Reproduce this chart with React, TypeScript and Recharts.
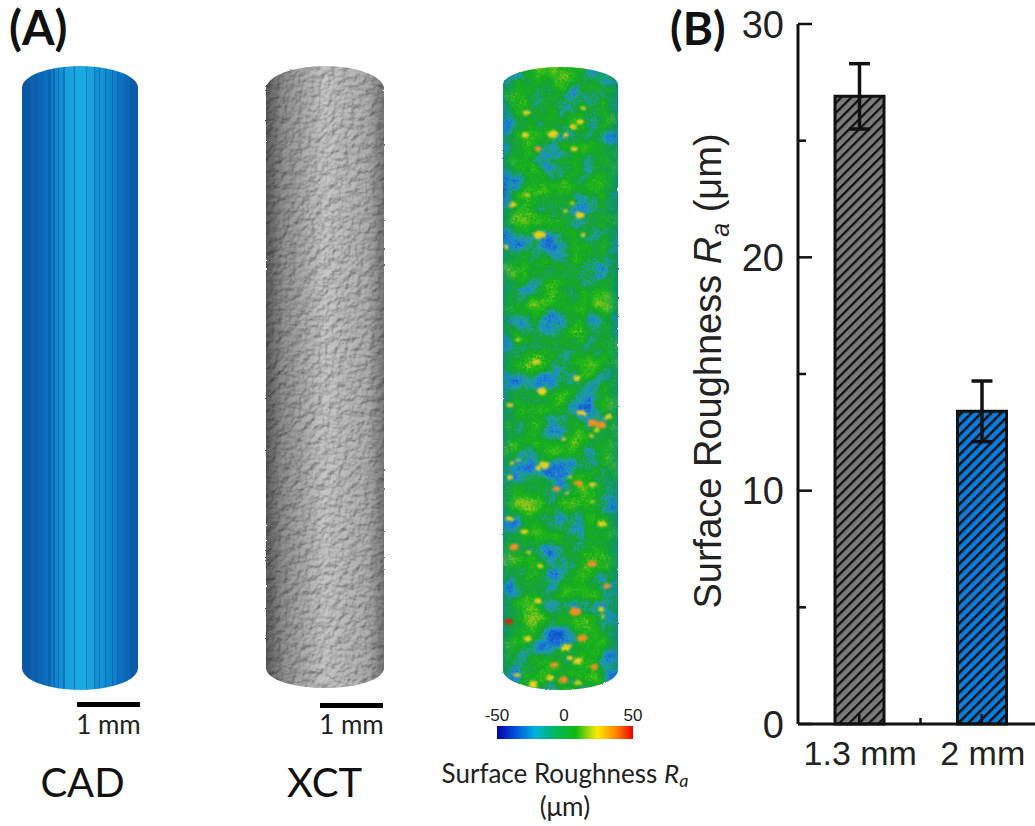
import { Bar, BarChart, Cell, ErrorBar, Label, XAxis, YAxis } from 'recharts'

const categories = ['1.3 mm', '2 mm']
const roughness = [26.9, 13.4]
const roughnessError = [1.4, 1.3]
const barFills = ['url(#hatchGray)', 'url(#hatchBlue)']
const yTicks = [0, 5, 10, 15, 20, 25, 30]

const colorbarStops = [
  ['0%', '#0000a8'],
  ['12%', '#0048d8'],
  ['28%', '#00b0e0'],
  ['42%', '#00b860'],
  ['58%', '#10b810'],
  ['68%', '#a8dc10'],
  ['74%', '#ffe800'],
  ['88%', '#ff8000'],
  ['100%', '#f00000'],
]

// facet widths and colours of the CAD model, left to right
const cadFacets = [
  [8, '#0a58a4'], [8, '#0a60ac'], [6, '#0b68b6'], [4, '#0c72c0'], [3, '#0b66b4'], [2, '#1080cc'], [2, '#0b6ab8'],
  [3, '#1088d0'], [1, '#0b6cb8'], [4, '#1390d4'], [2, '#0d74c0'], [9, '#1ba2dc'], [1, '#0c78c4'], [11, '#1ca8e0'],
  [1, '#0e7cc8'], [7, '#1aa2dc'], [1, '#0c74c0'], [4, '#148fd4'], [1, '#0c70bc'], [5, '#1490d4'], [1, '#0c70bc'],
  [6, '#1088d0'], [1, '#0b68b6'], [4, '#1080cc'], [1, '#0a62ae'], [6, '#0c72c0'], [6, '#0b68b6'], [8, '#0a5ca8'],
] as const

const YELLOW = '#e8d020'
const ORANGE = '#f09020'
const RED = '#d82010'

// warm patches on the roughness map: x, y, radius, colour
const hotSpots = [
  [526, 113, 3, YELLOW], [553, 134, 4.5, YELLOW], [538, 149, 3, ORANGE], [573, 127, 3, YELLOW], [580, 122, 3, YELLOW],
  [574, 149, 3, YELLOW], [566, 135, 2, YELLOW], [525, 135, 3, YELLOW], [583, 108, 2, YELLOW], [513, 205, 3, YELLOW],
  [527, 195, 2, YELLOW], [580, 215, 3.5, YELLOW], [572, 203, 2, YELLOW], [565, 211, 2, YELLOW], [540, 235, 5, YELLOW],
  [583, 235, 2, YELLOW], [506, 247, 2, YELLOW], [537, 362, 3, YELLOW], [577, 378, 3, YELLOW], [518, 340, 2, YELLOW],
  [542, 391, 4, YELLOW], [510, 405, 2.5, YELLOW], [582, 413, 3.5, YELLOW], [593, 423, 4, ORANGE], [602, 425, 4, ORANGE],
  [608, 417, 3, YELLOW], [597, 430, 2.5, YELLOW], [592, 436, 2, YELLOW], [564, 439, 2, YELLOW], [544, 465, 4, YELLOW],
  [538, 468, 2.5, YELLOW], [518, 460, 2, YELLOW], [512, 463, 2, YELLOW], [510, 477, 2.5, YELLOW], [557, 489, 3, ORANGE],
  [578, 483, 3.5, ORANGE], [593, 485, 3, YELLOW], [567, 493, 2, YELLOW], [510, 519, 3, YELLOW], [525, 532, 3, YELLOW],
  [602, 524, 3.5, YELLOW], [593, 502, 2, YELLOW], [570, 477, 2, YELLOW], [514, 547, 4, ORANGE], [528, 552, 2, YELLOW],
  [592, 564, 4, ORANGE], [540, 566, 2.5, YELLOW], [607, 586, 3.5, ORANGE], [538, 601, 3, YELLOW], [575, 612, 5, ORANGE],
  [509, 622, 3.5, RED], [601, 609, 2.5, YELLOW], [603, 616, 2, YELLOW], [528, 639, 3.5, YELLOW], [582, 638, 4.5, ORANGE],
  [566, 648, 4, YELLOW], [578, 661, 4, YELLOW], [554, 665, 3.5, ORANGE], [594, 667, 3, ORANGE], [570, 658, 2.5, YELLOW],
  [550, 678, 3.5, YELLOW], [563, 680, 4, ORANGE], [533, 685, 4, YELLOW], [578, 683, 3, YELLOW], [517, 675, 2.5, YELLOW],
] as const

const PAGE_W = 1035
const PAGE_H = 826
const CHART_LEFT = 660
const AXIS_X = 798
const PLOT_RIGHT = 1043
const CHART_W = PLOT_RIGHT - CHART_LEFT
const BAND = (PLOT_RIGHT - AXIS_X) / categories.length
const INK = '#111'
const TICK_TEXT = '#222'
const ARIAL = '"Liberation Sans", Arial, sans-serif'
const CALIBRI = 'Lato, "Open Sans", sans-serif'

const chartData = categories.map((name, i) => ({
  name,
  roughness: roughness[i],
  err: roughnessError[i],
}))

const cylinderPath = (x0: number, x1: number, topC: number, topS: number, botC: number, botS: number) => {
  const rx = (x1 - x0) / 2
  return `M${x0} ${topS} A${rx} ${topS - topC} 0 0 1 ${x1} ${topS} L${x1} ${botS} A${rx} ${botC - botS} 0 0 1 ${x0} ${botS} Z`
}

const cadPath = cylinderPath(22, 138, 66, 88, 690, 668)
const xctPath = cylinderPath(266, 384, 66, 89, 688, 668)
const mapPath = cylinderPath(503, 618, 67, 85, 690, 670)

const YTick = ({ x, y, payload }: any) => {
  const major = payload.value % 10 === 0
  return (
    <g>
      <line x1={x} x2={x + (major ? 14 : 8)} y1={y} y2={y} stroke={INK} strokeWidth={2.5} />
      {major && (
        <text x={x - 14} y={y} dy="0.36em" textAnchor="end" fontFamily={ARIAL} fontSize={38} fill={TICK_TEXT}>
          {payload.value}
        </text>
      )}
    </g>
  )
}

const XTick = ({ x, y, payload }: any) => (
  <g>
    <line x1={x} x2={x} y1={y} y2={y - 10} stroke={INK} strokeWidth={2.5} />
    <line x1={x + BAND / 2} x2={x + BAND / 2} y1={y} y2={y - 6} stroke={INK} strokeWidth={2.5} />
    <text x={x + 1} y={y + 41} textAnchor="middle" fontFamily={ARIAL} fontSize={34} fill={TICK_TEXT}>
      {payload.value}
    </text>
  </g>
)

const YTitle = () => (
  <text
    transform="translate(61 371) rotate(-90)"
    textAnchor="middle"
    fontFamily={ARIAL}
    fontSize={38}
    fill={TICK_TEXT}
  >
    Surface Roughness{' '}
    <tspan fontStyle="italic">R</tspan>
    <tspan fontStyle="italic" fontSize={25} dy={8}>a</tspan>
    <tspan dy={-8}> (μm)</tspan>
  </text>
)

const RoughnessBars = () => (
  <BarChart
    width={CHART_W}
    height={PAGE_H}
    data={chartData}
    margin={{ top: 24, right: 0, bottom: 0, left: 0 }}
  >
    <defs>
      <pattern id="hatchGray" width="7" height="7" patternUnits="userSpaceOnUse" patternTransform="rotate(45)">
        <rect width="7" height="7" fill="#7b7b7b" />
        <line x1="1" x2="1" y1="0" y2="7" stroke="#111" strokeWidth="2.6" />
      </pattern>
      <pattern id="hatchBlue" width="7" height="7" patternUnits="userSpaceOnUse" patternTransform="rotate(45)">
        <rect width="7" height="7" fill="#0a7ee0" />
        <line x1="1" x2="1" y1="0" y2="7" stroke="#111" strokeWidth="3" />
      </pattern>
    </defs>
    <XAxis
      dataKey="name"
      interval={0}
      height={102}
      tickSize={0}
      tickMargin={0}
      tickLine={false}
      tick={<XTick />}
      axisLine={{ stroke: INK, strokeWidth: 3 }}
    />
    <XAxis
      xAxisId="top"
      orientation="top"
      dataKey="name"
      height={0}
      tick={false}
      tickLine={false}
      axisLine={{ stroke: INK, strokeWidth: 3 }}
    />
    <YAxis
      width={AXIS_X - CHART_LEFT}
      domain={[0, 30]}
      ticks={yTicks}
      interval={0}
      tickSize={0}
      tickMargin={0}
      tickLine={false}
      tick={<YTick />}
      axisLine={{ stroke: INK, strokeWidth: 3 }}
    >
      <Label content={<YTitle />} />
    </YAxis>
    <Bar dataKey="roughness" barSize={49} stroke={INK} strokeWidth={3} isAnimationActive={false}>
      {chartData.map((d, i) => (
        <Cell key={d.name} fill={barFills[i]} />
      ))}
      <ErrorBar dataKey="err" width={10.5} stroke={INK} strokeWidth={3.5} isAnimationActive={false} />
    </Bar>
  </BarChart>
)

const Specimens = () => {
  let facetX = 22
  return (
    <svg
      width={PAGE_W}
      height={PAGE_H}
      style={{ position: 'absolute', left: 0, top: 0, pointerEvents: 'none' }}
    >
      <defs>
        <clipPath id="cadClip"><path d={cadPath} /></clipPath>
        <clipPath id="xctClip"><path d={xctPath} /></clipPath>
        <clipPath id="mapClip"><path d={mapPath} /></clipPath>
        <linearGradient id="xctShade">
          <stop offset="0%" stopColor="#000" stopOpacity={0.64} />
          <stop offset="14%" stopColor="#000" stopOpacity={0.44} />
          <stop offset="50%" stopColor="#000" stopOpacity={0.22} />
          <stop offset="86%" stopColor="#000" stopOpacity={0.32} />
          <stop offset="100%" stopColor="#000" stopOpacity={0.52} />
        </linearGradient>
        <linearGradient id="mapShade">
          <stop offset="0%" stopColor="#0a70c0" stopOpacity={0.35} />
          <stop offset="12%" stopColor="#0a70c0" stopOpacity={0} />
          <stop offset="88%" stopColor="#0a70c0" stopOpacity={0} />
          <stop offset="100%" stopColor="#0a70c0" stopOpacity={0.4} />
        </linearGradient>
        <linearGradient id="colorbar">
          {colorbarStops.map(([offset, color]) => (
            <stop key={offset} offset={offset} stopColor={color} />
          ))}
        </linearGradient>
        <filter id="bumps" x="0" y="0" width="1" height="1" colorInterpolationFilters="sRGB">
          <feTurbulence type="fractalNoise" baseFrequency="0.15" numOctaves="3" seed="7" result="n" />
          <feDiffuseLighting in="n" surfaceScale="1.4" diffuseConstant="1.05" lightingColor="#fff">
            <feDistantLight azimuth="235" elevation="62" />
          </feDiffuseLighting>
          <feGaussianBlur stdDeviation="0.6" />
        </filter>
        <filter id="roughMap" x="0" y="0" width="1" height="1" colorInterpolationFilters="sRGB">
          <feTurbulence type="fractalNoise" baseFrequency="0.035" numOctaves="3" seed="11" result="low" />
          <feTurbulence type="fractalNoise" baseFrequency="0.45" numOctaves="2" seed="3" result="high" />
          <feComposite in="low" in2="high" operator="arithmetic" k1="0" k2="0.75" k3="0.25" k4="0" />
          <feColorMatrix values="1 0 0 0 0  1 0 0 0 0  1 0 0 0 0  0 0 0 0 1" />
          <feComponentTransfer>
            <feFuncR type="linear" slope="1.6" intercept="-0.24" />
            <feFuncG type="linear" slope="1.6" intercept="-0.24" />
            <feFuncB type="linear" slope="1.6" intercept="-0.24" />
          </feComponentTransfer>
          <feComponentTransfer>
            <feFuncR type="table" tableValues="0.10 0.10 0.11 0.12 0.12 0.09 0.07 0.09 0.16 0.30 0.55" />
            <feFuncG type="table" tableValues="0.31 0.38 0.47 0.56 0.63 0.63 0.66 0.69 0.72 0.74 0.76" />
            <feFuncB type="table" tableValues="0.82 0.82 0.82 0.78 0.56 0.25 0.16 0.12 0.12 0.12 0.12" />
          </feComponentTransfer>
          <feGaussianBlur stdDeviation="0.4" />
        </filter>
        <filter id="blotch" x="-5%" y="-5%" width="110%" height="110%">
          <feTurbulence type="fractalNoise" baseFrequency="0.25" numOctaves="2" seed="5" result="w" />
          <feDisplacementMap in="SourceGraphic" in2="w" scale="4" xChannelSelector="R" yChannelSelector="G" />
          <feGaussianBlur stdDeviation="0.8" />
        </filter>
        <filter id="fuzzy" x="-5%" y="-2%" width="110%" height="104%">
          <feTurbulence type="fractalNoise" baseFrequency="0.25" numOctaves="2" seed="9" result="w" />
          <feDisplacementMap in="SourceGraphic" in2="w" scale="2" xChannelSelector="R" yChannelSelector="G" />
        </filter>
      </defs>

      <text x={9} y={45} fontFamily={CALIBRI} fontWeight={700} fontSize={47} fill="#111">(A)</text>
      <text x={670} y={45} fontFamily={CALIBRI} fontWeight={700} fontSize={46} fill="#111">(B)</text>

      <g clipPath="url(#cadClip)">
        {cadFacets.map(([w, color], i) => {
          const x = facetX
          facetX += w
          return <rect key={i} x={x} y={60} width={w + 0.3} height={640} fill={color} />
        })}
      </g>

      <g filter="url(#fuzzy)">
        <g clipPath="url(#xctClip)">
          <rect x={260} y={60} width={130} height={640} filter="url(#bumps)" />
          <rect x={266} y={60} width={118} height={640} fill="url(#xctShade)" />
        </g>
      </g>

      <g filter="url(#fuzzy)">
        <g clipPath="url(#mapClip)">
          <rect x={498} y={60} width={126} height={640} filter="url(#roughMap)" />
          <rect x={503} y={60} width={115} height={640} fill="url(#mapShade)" />
          <g filter="url(#blotch)">
            {hotSpots.map(([x, y, r, color], i) => (
              <ellipse key={i} cx={x} cy={y} rx={r * 1.2} ry={r * 0.8} fill={color} />
            ))}
          </g>
        </g>
      </g>

      <rect x={77} y={702} width={63} height={5} fill="#000" />
      <rect x={320} y={703} width={63} height={5} fill="#000" />
      <text x={108.5} y={734} textAnchor="middle" fontFamily={CALIBRI} fontSize={26} fill="#222">1 mm</text>
      <text x={351.5} y={734} textAnchor="middle" fontFamily={CALIBRI} fontSize={26} fill="#222">1 mm</text>
      <text x={82.5} y={797} textAnchor="middle" fontFamily={CALIBRI} fontSize={40} fill="#111">CAD</text>
      <text x={324.5} y={797} textAnchor="middle" fontFamily={CALIBRI} fontSize={40} fill="#111">XCT</text>

      <text x={497} y={721} textAnchor="middle" fontFamily={ARIAL} fontSize={17} fill="#222">-50</text>
      <text x={564} y={721} textAnchor="middle" fontFamily={ARIAL} fontSize={17} fill="#222">0</text>
      <text x={633} y={721} textAnchor="middle" fontFamily={ARIAL} fontSize={17} fill="#222">50</text>
      <rect x={497} y={726} width={136} height={13} fill="url(#colorbar)" />

      <text x={565} y={783} textAnchor="middle" fontFamily={CALIBRI} fontSize={26} fill="#222">
        Surface Roughness <tspan fontStyle="italic">R</tspan>
        <tspan fontStyle="italic" fontSize={18} dy={4}>a</tspan>
      </text>
      <text x={565} y={816} textAnchor="middle" fontFamily={CALIBRI} fontSize={26} fill="#222">(μm)</text>
    </svg>
  )
}

export default function App() {
  return (
    <div
      style={{
        position: 'absolute',
        left: 0,
        top: 0,
        width: PAGE_W,
        height: PAGE_H,
        overflow: 'hidden',
        background: '#fff',
      }}
    >
      <div style={{ position: 'absolute', left: CHART_LEFT, top: 0 }}>
        <RoughnessBars />
      </div>
      <Specimens />
    </div>
  )
}
